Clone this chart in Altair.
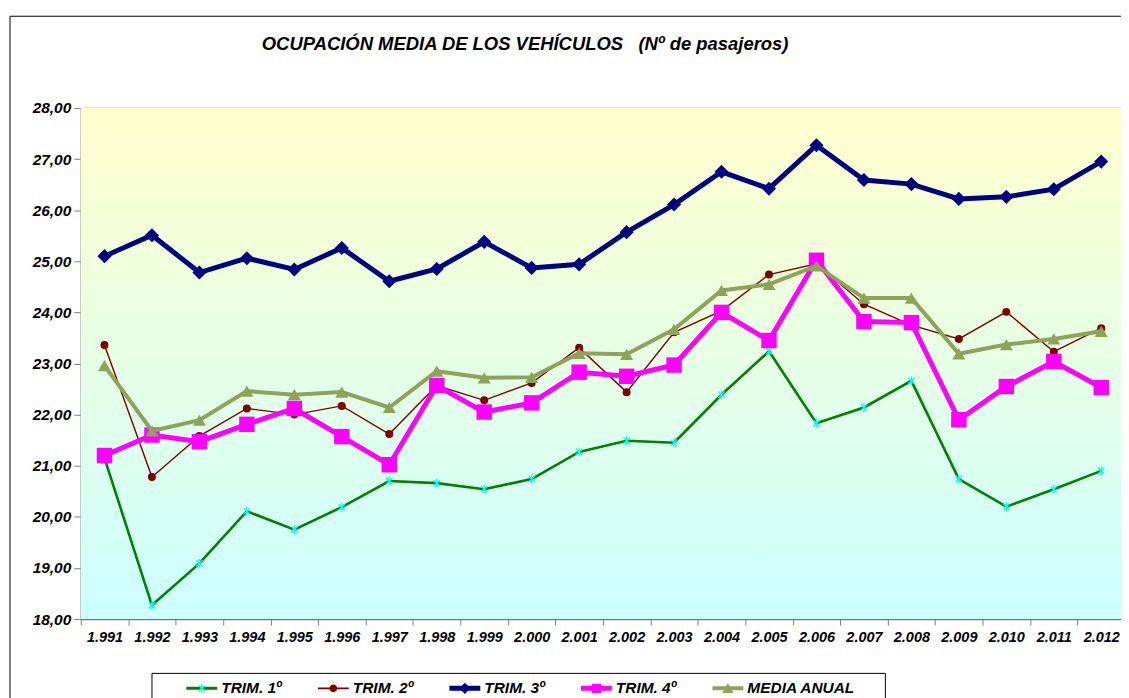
import math
import altair as alt
import pandas as pd

# ---------------- data ----------------
anios = ["1.991", "1.992", "1.993", "1.994", "1.995", "1.996", "1.997", "1.998",
         "1.999", "2.000", "2.001", "2.002", "2.003", "2.004", "2.005", "2.006",
         "2.007", "2.008", "2.009", "2.010", "2.011", "2.012"]

series = ["TRIM. 1º", "TRIM. 2º", "TRIM. 3º", "TRIM. 4º", "MEDIA ANUAL"]

trim1 = [21.15, 18.27, 19.09, 20.11, 19.75, 20.19, 20.70, 20.66, 20.54, 20.74, 21.27,
         21.49, 21.45, 22.39, 23.24, 21.83, 22.14, 22.66, 20.74, 20.20, 20.54, 20.90]
trim2 = [23.36, 20.78, 21.58, 22.12, 22.00, 22.17, 21.62, 22.57, 22.28, 22.62, 23.31,
         22.44, 23.61, 24.03, 24.74, 24.95, 24.16, 23.75, 23.48, 24.01, 23.23, 23.69]
trim3 = [25.10, 25.51, 24.78, 25.06, 24.84, 25.26, 24.61, 24.85, 25.38, 24.87, 24.94,
         25.57, 26.11, 26.75, 26.42, 27.27, 26.59, 26.51, 26.22, 26.26, 26.41, 26.95]
trim4 = [21.20, 21.60, 21.47, 21.81, 22.12, 21.57, 21.02, 22.57, 22.05, 22.23, 22.83,
         22.75, 22.97, 24.00, 23.45, 25.02, 23.82, 23.80, 21.90, 22.55, 23.04, 22.53]
media = [22.96, 21.68, 21.89, 22.46, 22.39, 22.44, 22.14, 22.85, 22.72, 22.73, 23.20,
         23.18, 23.67, 24.43, 24.55, 24.91, 24.28, 24.28, 23.19, 23.37, 23.48, 23.63]

y_ticks = list(range(18, 29))
titulo = "OCUPACIÓN MEDIA DE LOS VEHÍCULOS\u00a0\u00a0\u00a0(Nº de pasajeros)"

valores = [trim1, trim2, trim3, trim4, media]
df = pd.DataFrame([
    {"anio": a, "serie": s, "valor": v}
    for s, vals in zip(series, valores)
    for a, v in zip(anios, vals)
])
legdf = pd.DataFrame({"serie": series})
one = pd.DataFrame({"k": [0]})

# ---------------- styles ----------------
FONT = "Liberation Sans"
W, H = 1048, 513
line_colors = ["#008000", "#800000", "#000080", "#FF00FF", "#8EA35A"]
line_widths = [2.6, 1.4, 5, 5, 4]
marker_colors = ["#00FFFF", "#800000", "#000080", "#FF00FF", "#8EA35A"]

ASTER = "M-0.7,-0.7L0.7,0.7M-0.7,0.7L0.7,-0.7M0,-1L0,1"
marker_specs = [
    dict(shape=ASTER, size=81, filled=False, strokeWidth=1.3),
    dict(shape="circle", size=64, filled=True),
    dict(shape="diamond", size=200, filled=True),
    dict(shape="square", size=240, filled=True),
    dict(shape="triangle-up", size=170, filled=True),
]


def rect(x0, y0, x1, y1):
    return f"M{x0:.3f},{y0:.3f}L{x1:.3f},{y0:.3f}L{x1:.3f},{y1:.3f}L{x0:.3f},{y1:.3f}Z"


U = 15.5  # px per unit for legend symbols (size 961 -> 31px)
BOUND = "M-1,-1L-1,-1M1,1L1,1"
leg_line_paths = [rect(-1, -w / 2 / U, 1, w / 2 / U) + BOUND for w in [3, 1.6, 5, 5, 4]]
# extend the last entry's bounds so the legend frame reaches further right
leg_line_paths[-1] += "M10.15,0L10.15,0"


def bar(angle, L, h):
    a = math.radians(angle)
    dx, dy = math.cos(a), math.sin(a)
    nx, ny = -dy, dx
    pts = [(L * dx + h * nx, L * dy + h * ny), (L * dx - h * nx, L * dy - h * ny),
           (-L * dx - h * nx, -L * dy - h * ny), (-L * dx + h * nx, -L * dy + h * ny)]
    return "M" + "L".join(f"{x:.3f},{y:.3f}" for x, y in pts) + "Z"


ast_leg = bar(90, 0.29, 0.045) + bar(45, 0.29, 0.045) + bar(-45, 0.29, 0.045)
r = 0.25
circ_leg = f"M{r},0A{r},{r} 0 1,1 -{r},0A{r},{r} 0 1,1 {r},0Z"
leg_marker_paths = [
    ast_leg + BOUND,
    circ_leg + BOUND,
    "M0,-0.36L0.36,0L0,0.36L-0.36,0Z" + BOUND,
    rect(-0.3, -0.3, 0.3, 0.3) + BOUND,
    "M0,-0.33L0.37,0.3L-0.37,0.3Z" + BOUND,
]

# ---------------- encodings ----------------
x_enc = alt.X(
    "anio:N", sort=anios,
    scale=alt.Scale(type="band", domain=anios, paddingInner=0, paddingOuter=0),
    axis=alt.Axis(title=None, labelAngle=0, tickBand="extent", ticks=True, tickSize=6,
                  tickColor="#808080", domainColor="#808080", labelFont=FONT,
                  labelFontSize=14.5, labelFontStyle="italic", labelFontWeight="bold",
                  labelColor="black", labelPadding=5, grid=False),
)
y_enc = alt.Y(
    "valor:Q",
    scale=alt.Scale(domain=[18, 28], nice=False, zero=False),
    axis=alt.Axis(title=None, values=y_ticks,
                  labelExpr="replace(format(datum.value, '.2f'), '.', ',')",
                  grid=True, gridColor="black", gridWidth=1, tickColor="#808080",
                  tickSize=7, domainColor="#808080", domainWidth=1.5, labelFont=FONT,
                  labelFontSize=15.5, labelFontStyle="italic", labelFontWeight="bold",
                  labelColor="black", labelPadding=3),
)

gradient = {"gradient": "linear", "x1": 0, "y1": 0, "x2": 0, "y2": 1,
            "stops": [{"offset": 0, "color": "#FFFFCC"}, {"offset": 1, "color": "#CCFFFF"}]}

bg = alt.Chart(one).mark_rect(fill=gradient).encode(
    x=alt.value(0), x2=alt.value(W), y=alt.value(0), y2=alt.value(H))

# outer chart-area frame (decoration)
frame = alt.Chart(one).mark_rect(fill="white", fillOpacity=0, stroke="black", strokeWidth=1).encode(
    x=alt.value(-71), x2=alt.value(W + 200), y=alt.value(-92), y2=alt.value(H + 300))

base = alt.Chart(df)
layers = [frame, bg]
for name, col, w, spec in zip(series, line_colors, line_widths, marker_specs):
    sub = base.transform_filter(alt.datum.serie == name)
    layers.append(sub.mark_line(color=col, strokeWidth=w).encode(x=x_enc, y=y_enc))
    mcol = marker_colors[series.index(name)]
    layers.append(sub.mark_point(color=mcol, opacity=1, **spec).encode(x=x_enc, y=y_enc))

common = dict(
    orient="none", legendX=71, legendY=567, direction="horizontal", columns=5,
    symbolSize=961, symbolStrokeWidth=0, padding=0, columnPadding=36,
    labelFont=FONT, labelFontSize=15.5, labelFontStyle="italic", labelFontWeight="bold",
    labelColor="black", labelOffset=4, labelLimit=400,
    title="\u00a0", titleOrient="left", titlePadding=35, titleFontSize=14,
)
legA = alt.Legend(strokeColor="black", **common)
legB = alt.Legend(labelOpacity=0, **common)

lA = alt.Chart(legdf).transform_filter("false").mark_point(filled=True, opacity=1).encode(
    color=alt.Color("serie:N", scale=alt.Scale(domain=series, range=line_colors), legend=legA),
    shape=alt.Shape("serie:N", scale=alt.Scale(domain=series, range=leg_line_paths), legend=legA),
)
lB = alt.Chart(legdf).transform_filter("false").mark_point(filled=True, opacity=1).encode(
    color=alt.Color("serie:N", scale=alt.Scale(domain=series, range=marker_colors), legend=legB),
    shape=alt.Shape("serie:N", scale=alt.Scale(domain=series, range=leg_marker_paths), legend=legB),
)
layers += [lA, lB]

chart = alt.layer(*layers).resolve_scale(color="independent", shape="independent").properties(
    width=W, height=H,
    title=alt.TitleParams(titulo, font=FONT, fontSize=18.5, fontStyle="italic", fontWeight="bold",
                          color="black", anchor="middle", frame="group", dx=-78, offset=0,
                          dy=53, baseline="alphabetic"),
    autosize=alt.AutoSizeParams(type="none"),
    padding={"left": 73, "top": 99, "right": -4, "bottom": 100},
).configure_view(stroke="#808080", strokeWidth=1).configure(background="white")

chart.save("out.html", embed_options={"renderer": "svg", "actions": False})
